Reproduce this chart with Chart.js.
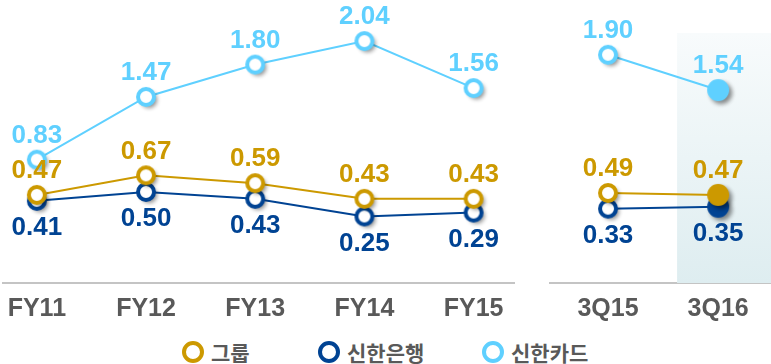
<!DOCTYPE html>
<html>
<head>
<meta charset="utf-8">
<script src="https://cdn.jsdelivr.net/npm/chart.js@4.4.0/dist/chart.umd.min.js"></script>
<style>
  body { margin: 0; background: #fff; }
  #wrap { position: relative; width: 771px; height: 364px; overflow: hidden; }
  canvas { position: absolute; top: 0; }
  #fy { left: 0; }
  #q { left: 520px; }
  .legend { position: absolute; top: 337px; height: 30px; display: flex; align-items: center;
            font: bold 21px "Noto Sans CJK KR", sans-serif; color: #595959; }
  .legend i { display: inline-block; width: 22px; height: 22px; box-sizing: border-box;
              border: 4px solid; border-radius: 50%; margin-right: 7px; }
</style>
</head>
<body>
<div id="wrap">
  <canvas id="fy" width="520" height="323"></canvas>
  <canvas id="q" width="251" height="323"></canvas>
  <div class="legend" style="left:182px"><i style="border-color:#cc9900"></i>그룹</div>
  <div class="legend" style="left:318px"><i style="border-color:#004393"></i>신한은행</div>
  <div class="legend" style="left:482px"><i style="border-color:#5fd0ff"></i>신한카드</div>
</div>
<script>
// yearly figures
var fyLabels = ['FY11', 'FY12', 'FY13', 'FY14', 'FY15'];
var groupFY = [0.47, 0.67, 0.59, 0.43, 0.43];
var bankFY = [0.41, 0.50, 0.43, 0.25, 0.29];
var cardFY = [0.83, 1.47, 1.80, 2.04, 1.56];

// quarterly figures
var qLabels = ['3Q15', '3Q16'];
var groupQ = [0.49, 0.47];
var bankQ = [0.33, 0.35];
var cardQ = [1.90, 1.54];

var GOLD = '#cc9900', NAVY = '#004393', SKY = '#5fd0ff';
var FONT = 'Arial, "Liberation Sans", sans-serif';

// marker sprites with a soft drop shadow
function marker(color, filled) {
  var c = document.createElement('canvas');
  c.width = 40; c.height = 40;
  var g = c.getContext('2d');
  g.shadowColor = 'rgba(0,0,0,0.45)';
  g.shadowBlur = 4;
  g.shadowOffsetX = 3;
  g.shadowOffsetY = 3;
  g.beginPath();
  if (filled) {
    g.arc(20, 20, 11, 0, Math.PI * 2);
    g.fillStyle = color;
    g.fill();
  } else {
    g.arc(20, 20, 8, 0, Math.PI * 2);
    g.fillStyle = '#fff';
    g.fill();
    g.shadowColor = 'transparent';
    g.lineWidth = 4;
    g.strokeStyle = color;
    g.stroke();
  }
  return c;
}

function points(values) {
  return values.map(function (v, i) { return { x: i, y: v }; });
}

function series(values, color, order, lastFilled) {
  var hollow = marker(color, false), solid = marker(color, true);
  return {
    data: points(values),
    borderColor: color,
    borderWidth: 2,
    pointStyle: values.map(function (v, i) {
      return (lastFilled && i === values.length - 1) ? solid : hollow;
    }),
    pointRadius: 10,
    order: order,
    clip: false,
    labelOffset: color === NAVY ? 27 : -24
  };
}

// value labels above / below each point
var valueLabels = {
  id: 'valueLabels',
  afterDatasetsDraw: function (chart) {
    var ctx = chart.ctx;
    ctx.save();
    ctx.font = 'bold 26px ' + FONT;
    ctx.textAlign = 'center';
    ctx.textBaseline = 'middle';
    chart.data.datasets.forEach(function (ds, di) {
      var meta = chart.getDatasetMeta(di);
      ctx.fillStyle = ds.borderColor;
      meta.data.forEach(function (pt, i) {
        ctx.fillText(ds.data[i].y.toFixed(2), pt.x, pt.y + ds.labelOffset);
      });
    });
    ctx.restore();
  }
};

// shaded column behind the latest quarter
var highlight = {
  id: 'highlight',
  beforeDatasetsDraw: function (chart) {
    var area = chart.chartArea, ctx = chart.ctx;
    var left = chart.scales.x.getPixelForValue(0.627);
    var top = area.top + 33;
    var grad = ctx.createLinearGradient(0, top, 0, area.bottom);
    grad.addColorStop(0, '#f8fbfc');
    grad.addColorStop(1, '#deedf0');
    ctx.save();
    ctx.fillStyle = grad;
    ctx.fillRect(left, top, area.right - left, area.bottom - top);
    ctx.restore();
  }
};

function makeChart(id, labels, datasets, xMin, xMax, padding, plugins) {
  return new Chart(document.getElementById(id), {
    type: 'line',
    data: { datasets: datasets },
    plugins: plugins,
    options: {
      responsive: false,
      animation: false,
      layout: { padding: padding, autoPadding: false },
      plugins: { legend: { display: false }, tooltip: { enabled: false } },
      scales: {
        x: {
          type: 'linear',
          min: xMin,
          max: xMax,
          afterBuildTicks: function (axis) {
            axis.ticks = labels.map(function (l, i) { return { value: i }; });
          },
          // fixed axis band, no extra side padding for the labels
          afterFit: function (axis) {
            axis.paddingLeft = 0;
            axis.paddingRight = 0;
            axis.height = 40;
          },
          ticks: {
            autoSkip: false,
            maxRotation: 0,
            padding: 11,
            color: '#595959',
            font: { family: FONT, size: 25, weight: 'bold' },
            callback: function (v) { return labels[v]; }
          },
          grid: { display: false, drawTicks: false },
          border: { display: true, color: '#c4c4c4', width: 2 }
        },
        y: { display: false, min: -0.4286, max: 2.459 }
      }
    }
  });
}

makeChart('fy', fyLabels, [
  series(cardFY, SKY, 1, false),
  series(groupFY, GOLD, 2, false),
  series(bankFY, NAVY, 3, false)
], -0.31, 4.37, { left: 3, right: 6, top: 0, bottom: 0 }, [valueLabels]);

makeChart('q', qLabels, [
  series(cardQ, SKY, 1, true),
  series(groupQ, GOLD, 2, true),
  series(bankQ, NAVY, 3, true)
], -0.527, 1.48, { left: 30, right: 0, top: 0, bottom: 0 }, [highlight, valueLabels]);
</script>
</body>
</html>
